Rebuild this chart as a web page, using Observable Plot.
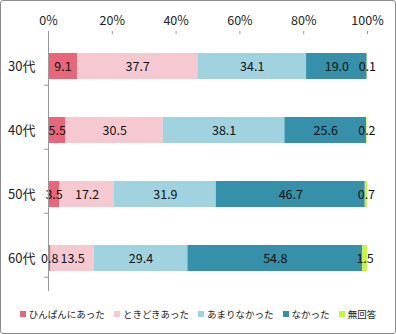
<!DOCTYPE html>
<html><head><meta charset="utf-8">
<script src="https://cdn.jsdelivr.net/npm/d3@7"></script>
<script src="https://cdn.jsdelivr.net/npm/@observablehq/plot@0.6"></script>
<style>
body{margin:0;background:#fff;}
#wrap{position:relative;width:396px;height:334px;box-sizing:border-box;border:1px solid #8c8c8c;border-radius:3px;font-family:"Noto Sans CJK JP","Noto Sans",sans-serif;}
#legend{display:flex;justify-content:center;gap:9px;font-size:9.5px;color:#222;margin-top:6px;white-space:nowrap;}
#legend span.sw{display:inline-block;width:6px;height:6px;margin-right:3px;vertical-align:middle;position:relative;top:-1px;}
</style></head>
<body><div id="wrap"><div id="chart"></div><div id="legend"></div></div>
<script>
const ages = ["30代", "40代", "50代", "60代"];
const answers = ["ひんぱんにあった", "ときどきあった", "あまりなかった", "なかった", "無回答"];
const colors = ["#e8667a", "#f6c9d1", "#a0d2e0", "#3790aa", "#c6f545"];
const v30 = [9.1, 37.7, 34.1, 19.0, 0.1];
const v40 = [5.5, 30.5, 38.1, 25.6, 0.2];
const v50 = [3.5, 17.2, 31.9, 46.7, 0.7];
const v60 = [0.8, 13.5, 29.4, 54.8, 1.5];
const xTicks = [0, 20, 40, 60, 80, 100];

const series = [v30, v40, v50, v60];
const data = [];
ages.forEach((a, i) => answers.forEach((k, j) => data.push({age: a, answer: k, value: series[i][j]})));

const chart = Plot.plot({
  width: 394, height: 300,
  marginLeft: 47, marginRight: 28, marginTop: 32, marginBottom: 10,
  style: {fontFamily: '"Noto Sans CJK JP","Noto Sans",sans-serif', fontSize: "12px", color: "#222"},
  x: {domain: [0, 100], axis: null},
  y: {domain: ages, paddingInner: 0.6, paddingOuter: 0.3, axis: null},
  color: {domain: answers, range: colors},
  marks: [
    Plot.barX(data, Plot.stackX({x: "value", y: "age", fill: "answer", z: "answer", order: answers})),
    Plot.textX(data, Plot.stackX({x: "value", y: "age", z: "answer", order: answers, text: d => d.value.toFixed(1), fill: "#111", fontSize: 12.5})),
    Plot.axisX({anchor: "top", ticks: xTicks, tickFormat: d => d + "%", tickSize: 3, tickPadding: 6, stroke: "#999", fill: "#222", fontSize: 12.5, label: null}),
    Plot.axisY({anchor: "left", tickSize: 0, tickPadding: 13, fontSize: 13, label: null}),
    Plot.axisY({anchor: "left", tickSize: 4, text: null, stroke: "#999", label: null,
      render(index, scales, values, dims, ctx, next) {
        const g = next(index, scales, values, dims, ctx);
        const step = (dims.height - dims.marginTop - dims.marginBottom) / ages.length;
        g.setAttribute("transform", `translate(0,${step / 2})`);
        return g;
      }}),
    Plot.ruleX([0], {stroke: "#999"})
  ]
});
document.getElementById("chart").appendChild(chart);

const lg = document.getElementById("legend");
answers.forEach((k, i) => {
  const el = document.createElement("span");
  el.innerHTML = `<span class="sw" style="background:${colors[i]}"></span>${k}`;
  lg.appendChild(el);
});
</script></body></html>
